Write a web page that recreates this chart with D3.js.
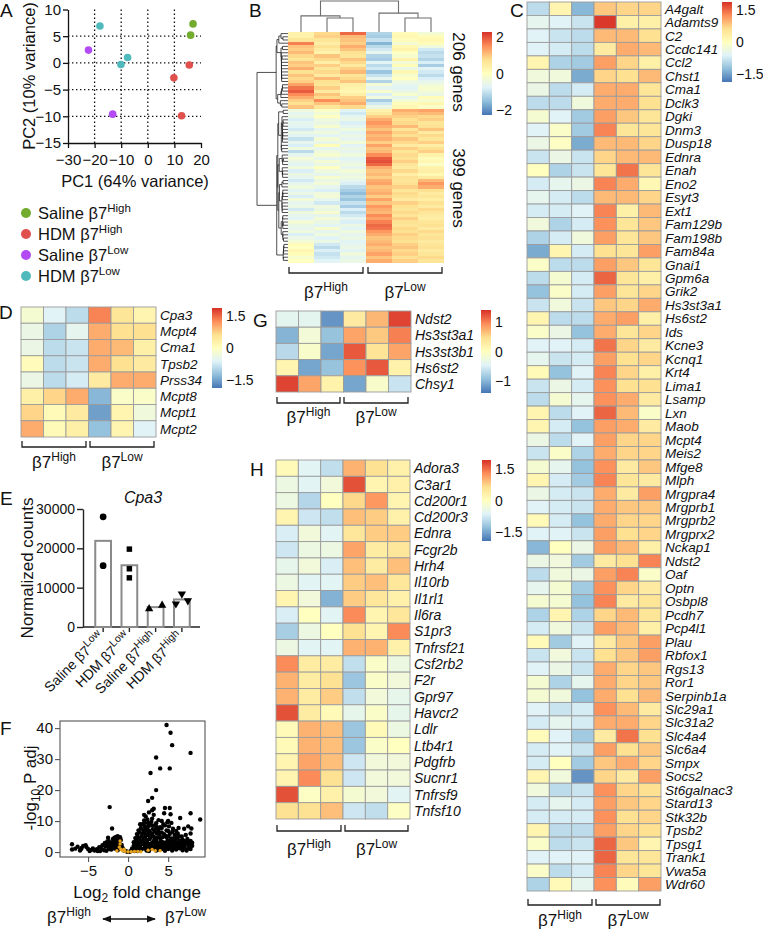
<!DOCTYPE html>
<html><head><meta charset="utf-8">
<script src="https://cdn.jsdelivr.net/npm/d3@7"></script>
<style>
body{margin:0;background:#fff}
svg{display:block}
text{font-family:"Liberation Sans",Arial,Helvetica,sans-serif;fill:#111}
</style>
</head><body>
<svg id="c" width="763" height="929"></svg>
<script>
// ---------------- DATA ----------------
// Panel A: PCA
const pcaGroupBase = ["Saline β7", "HDM β7", "Saline β7", "HDM β7"];
const pcaGroupSup = ["High", "High", "Low", "Low"];
const pcaColors = ["#72ab2d", "#e0504d", "#b24bf3", "#50b9bb"];
const pcaPC1 = [17.0, 16.1, 15.6, 9.8, 12.7, -22.3, -13.2, -18.0, -10.1, -7.6];
const pcaPC2 = [7.3, 5.2, -0.4, -2.8, -9.9, 2.4, -9.6, 6.9, -0.3, 1.0];
const pcaGroup = [0, 0, 1, 1, 1, 2, 2, 3, 3, 3];
const pcaXTicks = [-30, -20, -10, 0, 10, 20];
const pcaYTicks = [-15, -10, -5, 0, 5, 10];

// Panel B: 605 DE genes, summarised in row bands (6 samples)
const bTopRows = [
 [0.3,0.8,1.8,-1.2,0.1,-0.3],[0.3,0.9,1.1,-1.3,0.2,0.1],[0.6,0.6,1.0,-1.0,0.1,0.2],[1.6,0.4,0.9,-1.6,-0.3,0.1],
 [1.0,0.7,1.2,-1.1,0.2,-0.4],[0.9,0.5,1.0,-0.9,0.3,-0.9],[1.1,0.3,0.7,-0.6,0.0,-1.1],[0.8,1.0,0.6,-1.2,-0.2,-1.0],
 [0.6,0.8,1.0,-1.3,0.3,-1.2],[1.0,0.4,0.8,-0.7,-0.3,-0.8],[0.9,0.9,0.5,-1.1,0.1,-1.3],[1.2,0.6,0.9,-0.9,-0.5,-0.7],
 [0.7,0.8,1.1,-1.4,0.2,-0.9],[1.0,0.5,0.6,-1.0,-0.2,-1.1],[0.8,1.1,0.8,-0.6,0.0,-0.8],[0.9,0.7,1.0,-1.2,-0.4,-0.6],
 [1.3,0.6,0.4,-0.3,-0.6,-0.4],[1.7,0.9,0.3,-0.6,-0.7,-0.2],[1.9,0.5,0.2,-0.2,-0.5,-0.3],[1.5,1.0,0.4,-0.8,-0.2,-0.5],
 [1.2,0.8,0.9,-0.4,-0.6,0.1],[0.9,1.5,1.0,-1.3,-0.3,-0.2],[0.7,1.0,1.2,-0.9,0.1,0.2],[1.0,0.6,0.8,-0.5,0.2,-0.1]
];
const bBottomRows = [
 [-0.4,-0.1,-0.7,0.3,1.2,1.3],[-0.6,-0.3,-0.9,0.5,1.0,1.1],[-0.5,0.0,-0.6,0.9,0.9,0.8],[-0.8,-0.4,-0.5,1.2,0.7,0.9],
 [-0.6,-0.5,-0.8,1.4,0.8,0.6],[-0.7,-0.2,-0.6,1.2,1.1,0.7],[-0.9,-0.6,-0.4,1.0,0.6,1.0],[-0.5,-0.4,-0.7,1.3,0.9,0.5],
 [-0.7,-0.7,-0.5,1.1,0.7,0.8],[-1.0,-0.3,-0.6,1.2,1.0,0.6],[-0.6,-0.5,-0.3,0.9,0.8,0.9],[-0.8,0.1,-0.7,1.3,0.5,0.4],
 [-0.4,-0.6,-0.5,1.0,0.9,0.7],[-1.1,-0.4,-0.6,1.1,0.6,0.9],[-0.6,-0.2,-0.4,1.5,0.8,0.3],[-0.3,-0.6,-0.7,1.9,0.7,0.1],
 [-0.5,-0.3,-0.6,2.0,0.9,0.2],[-0.7,-0.5,-0.4,1.8,0.6,-0.1],[-0.4,0.0,-0.6,1.2,0.5,0.3],[-0.8,-0.4,-0.3,1.0,0.8,0.4],
 [-0.5,-0.6,-0.5,1.1,0.4,0.2],[-0.6,-0.2,-0.4,0.9,0.7,0.5],[-0.9,-0.5,-0.6,1.2,0.6,1.1],[-0.6,-0.3,-0.8,1.3,0.7,1.4],
 [-0.4,-0.6,-1.1,1.0,0.9,1.2],[-0.7,-0.8,-1.3,1.1,0.6,0.7],[-0.5,-0.4,-1.5,1.2,0.8,0.5],[-0.8,-0.3,-1.2,0.9,0.7,0.6],
 [-0.3,-0.6,-1.4,1.3,0.5,0.4],[-0.6,-0.9,-1.0,1.0,0.9,0.7],[-0.5,-0.4,-1.3,1.4,0.7,0.5],[-0.9,-0.5,-0.8,1.2,0.6,0.8],
 [-0.4,-0.2,-1.1,1.1,0.8,0.6],[-0.6,-0.6,-0.9,1.5,0.6,0.5],[-0.7,-0.3,-0.6,1.3,0.9,0.4],[-0.3,-0.5,-0.8,1.6,0.7,0.6],
 [-0.5,-0.7,-0.5,1.8,0.6,0.7],[-0.6,-0.2,-0.7,1.7,0.8,0.5],[-0.4,-0.6,-0.4,1.4,0.7,0.8],[-0.8,-0.4,-0.6,1.2,0.9,0.6],
 [-0.5,-0.7,-0.5,1.0,0.8,0.7],[-0.3,-0.5,-0.7,1.1,0.7,0.5],[0.1,-0.9,-0.6,1.2,0.9,0.6],[0.0,-1.1,-0.5,1.0,1.0,0.7],
 [0.2,-0.8,-0.7,1.1,0.8,0.5],[0.1,-1.0,-0.4,1.3,0.9,0.6],[-0.2,-0.9,-0.6,1.0,0.7,0.8],[0.0,-0.7,-0.5,1.2,0.9,0.6]
];
const bGeneCounts = ["206 genes", "399 genes"];
const bColumnTree = {h:1.0, children:[
  {h:0.52, children:[{leaf:0},{h:0.45, children:[{leaf:1},{leaf:2}]}]},
  {h:0.61, children:[{leaf:3},{h:0.45, children:[{leaf:4},{leaf:5}]}]}]};
const bLegendTicks = [-2, 0, 2];

// Panel C
const cGenes = ["A4galt","Adamts9","C2","Ccdc141","Ccl2","Chst1","Cma1","Dclk3","Dgki","Dnm3","Dusp18","Ednra","Enah","Eno2","Esyt3","Ext1","Fam129b","Fam198b","Fam84a","Gnai1","Gpm6a","Grik2","Hs3st3a1","Hs6st2","Ids","Kcne3","Kcnq1","Krt4","Lima1","Lsamp","Lxn","Maob","Mcpt4","Meis2","Mfge8","Mlph","Mrgpra4","Mrgprb1","Mrgprb2","Mrgprx2","Nckap1","Ndst2","Oaf","Optn","Osbpl8","Pcdh7","Pcp4l1","Plau","Rbfox1","Rgs13","Ror1","Serpinb1a","Slc29a1","Slc31a2","Slc4a4","Slc6a4","Smpx","Socs2","St6galnac3","Stard13","Stk32b","Tpsb2","Tpsg1","Trank1","Vwa5a","Wdr60"];
const cValues = [
 [-0.9,0.2,-1.3,0.8,0.7,0.7],[-0.5,-0.6,-0.8,1.8,0.3,0.3],[-0.6,-0.8,-0.9,0.9,0.9,0.6],[-0.6,-0.7,-0.9,0.4,1.0,0.9],
 [0.2,-1.0,-1.1,1.1,0.7,0.3],[-0.3,-0.3,-1.4,0.7,0.6,0.9],[-0.4,-0.9,-0.7,1.0,1.0,0.5],[-0.9,-0.9,-0.3,1.0,1.0,0.6],
 [-0.2,-0.6,-1.1,1.1,0.8,0.5],[-0.6,-0.1,-1.1,1.3,0.5,0.5],[-0.4,-0.05,-1.4,0.9,0.9,0.7],[-0.8,-0.4,-0.8,0.7,0.9,0.9],
 [0.0,-1.0,-0.8,0.5,1.4,0.5],[-0.7,-0.5,-0.4,1.3,1.0,0.15],[-0.5,-0.7,-0.9,0.9,0.9,0.7],[-0.7,-0.7,-0.6,1.3,0.3,0.9],
 [-0.3,-1.0,-0.7,1.2,0.5,0.8],[-1.0,-0.7,-0.3,1.1,0.5,0.8],[-1.4,0.2,-0.7,0.6,0.5,1.1],[-0.1,-0.9,-0.9,1.1,0.8,0.5],
 [-0.9,-0.2,-0.7,1.5,0.5,0.3],[-1.2,-0.1,-0.7,1.1,0.5,0.7],[-0.8,-0.3,-0.8,0.8,0.7,1.0],[0.2,-0.9,-0.9,1.0,1.1,0.3],
 [-0.1,-0.4,-1.2,1.0,0.5,0.7],[-0.6,-0.6,-0.7,1.4,0.7,0.4],[-0.5,-0.8,-0.7,1.1,0.6,0.7],[0.1,-1.2,-0.6,1.3,0.7,0.3],
 [-0.8,-0.4,-0.7,1.2,0.6,0.6],[-0.9,-0.2,-0.5,1.2,1.0,0.4],[0.2,-0.9,-0.6,1.5,0.9,-0.1],[0.2,-0.7,-1.2,1.1,1.0,0.4],
 [-0.4,-0.9,-0.6,1.1,0.7,0.7],[-0.8,-0.1,-1.0,1.0,0.7,0.7],[-0.2,-0.5,-1.2,1.2,0.4,0.8],[0.2,-0.7,-1.1,1.3,0.5,0.4],
 [-0.4,-0.7,-0.8,1.0,0.4,1.1],[-0.6,-0.7,-0.8,1.0,0.8,0.8],[0.1,-0.7,-1.2,1.0,0.7,0.7],[-0.6,-0.6,-0.8,1.1,0.6,0.7],
 [-1.3,0.0,-0.4,1.1,0.9,0.3],[-0.4,-0.3,-1.1,0.4,0.6,1.3],[-0.9,-0.3,-0.4,1.1,1.3,-0.1],[-0.5,-0.2,-1.1,1.2,0.7,0.4],
 [-0.2,-0.2,-1.2,1.3,0.4,0.5],[-1.0,0.2,-1.0,0.7,0.9,0.5],[-0.7,-0.3,-0.8,1.1,0.9,0.3],[0.1,-1.1,-0.6,0.4,0.8,1.1],
 [-0.8,-0.3,-0.8,0.6,0.8,1.1],[-0.6,-0.4,-0.8,1.0,0.7,0.8],[-0.2,-1.0,-0.5,1.0,0.7,0.8],[-0.2,-0.3,-1.2,1.0,0.6,0.9],
 [-0.6,-0.8,-0.7,1.2,0.9,0.4],[-0.7,-0.5,-0.7,1.0,1.0,0.7],[0.05,-0.6,-1.1,0.4,1.4,0.6],[-0.7,-0.6,-0.8,1.1,0.6,0.8],
 [-0.7,0.0,-1.1,0.8,1.0,0.7],[0.2,-0.3,-1.6,0.7,0.4,1.1],[-0.3,-0.9,-0.8,1.2,0.7,0.6],[-0.7,-0.5,-0.7,1.1,0.8,0.7],
 [-0.7,-0.7,-0.7,1.2,0.6,0.7],[0.2,-0.9,-0.9,1.1,0.7,0.6],[-0.1,-0.9,-0.8,1.5,0.8,0.2],[-0.6,-0.6,-0.6,1.5,0.5,0.5],
 [-0.1,-0.9,-0.7,1.3,0.7,0.5],[-1.0,0.1,-0.5,1.2,0.05,1.1]
];
const cLegendTicks = [-1.5, 0, 1.5];

// Panel D
const dGenes = ["Cpa3","Mcpt4","Cma1","Tpsb2","Prss34","Mcpt8","Mcpt1","Mcpt2"];
const dValues = [
 [-0.2,-0.6,-0.9,1.3,0.5,0.2],[-0.4,-1.0,-0.5,1.0,0.6,0.6],[-0.4,-0.9,-0.8,1.0,0.9,0.3],[0.05,-0.9,-0.8,1.0,0.6,0.4],
 [-0.4,-0.9,-0.7,0.4,1.0,1.0],[0.3,0.7,1.0,-1.3,-0.1,-0.1],[0.7,0.1,0.4,-1.5,0.2,-0.3],[1.0,0.1,0.3,-1.2,0.2,-0.6]
];
const dLegendTicks = [-1.5, 0, 1.5];

// Panel E: Cpa3 normalized counts
const eGroupBase = ["Saline β7", "HDM β7", "Saline β7", "HDM β7"];
const eGroupSup = ["Low", "Low", "High", "High"];
const eMeans = [21900, 15700, 5050, 7000];
const eReplicates = [[28000, 15600], [19800, 14800, 12500], [4600, 5500], [8400, 5900, 6700]];
const eSymbols = ["circle", "square", "triangle", "triangleDown"];
const eYTicks = [0, 10000, 20000, 30000];

// Panel F: volcano (log2 fold change, -log10 P adj)
const volcanoPoints = [
 [-7.0,2.5],[-7.0,0.8],[-6.3,1.7],[-5.8,1.3],[-5.3,2.2],[-5.2,1.6],[-5.0,1.0],[-4.6,0.7],[-4.2,0.5],[-3.9,0.9],
 [-3.6,1.6],[-3.3,1.1],[-3.0,0.6],[-2.8,1.8],[-2.6,2.6],[-2.5,4.6],[-2.4,3.5],[-2.3,14.5],[-2.2,2.2],[-2.0,7.6],
 [-2.0,3.0],[-1.9,4.2],[-1.8,1.2],[-1.7,4.6],[-1.6,2.4],[-1.5,4.9],[-1.4,3.6],[-1.3,5.1],[-1.2,4.4],[-1.1,2.9],
 [-1.0,4.8],[-0.9,3.9],[-0.8,2.3],[-0.7,1.4],[-0.6,0.9],[-0.5,0.5],[-0.3,0.3],[-0.1,0.1],[-2.7,0.4],[-3.5,0.3],
 [-2.1,0.8],[-1.3,0.6],[-4.8,0.3],[-6.0,0.5],[-5.6,2.0],[-2.9,2.9],[-1.9,1.6],[-1.5,1.0],[-1.0,1.9],[-2.4,1.4],
 [0.2,0.1],[0.4,0.4],[0.5,1.2],[0.6,0.6],[0.7,2.0],[0.8,1.1],[0.9,3.0],[1.0,0.5],[1.0,4.0],[1.1,2.2],
 [1.2,5.0],[1.3,1.5],[1.4,6.3],[1.5,3.4],[1.6,7.8],[1.6,0.8],[1.7,5.1],[1.8,9.0],[1.8,2.6],[1.9,4.0],
 [2.0,10.2],[2.0,6.5],[2.0,1.2],[2.1,8.2],[2.2,3.3],[2.3,7.0],[2.3,0.5],[2.4,5.4],[2.5,9.4],[2.5,2.0],
 [2.6,8.5],[2.7,4.2],[2.8,6.2],[2.8,1.0],[2.9,9.8],[3.0,3.0],[3.1,7.4],[3.2,12.0],[3.2,5.0],[3.3,1.7],
 [3.4,8.7],[3.5,9.3],[3.5,3.8],[3.6,6.0],[3.7,0.7],[3.8,7.5],[3.9,2.5],[4.0,8.0],[4.0,4.5],[4.1,1.3],
 [4.2,6.3],[4.3,3.2],[4.4,9.0],[4.5,12.5],[4.5,5.8],[4.6,14.2],[4.7,2.1],[4.8,7.0],[4.9,3.6],[5.0,5.0],
 [5.0,1.0],[5.1,8.3],[5.2,14.2],[5.3,12.2],[5.3,2.8],[5.4,4.4],[5.5,6.5],[5.6,1.8],[5.7,3.3],[5.8,5.5],
 [5.9,2.3],[6.0,5.0],[6.0,0.8],[6.2,6.0],[6.2,2.9],[6.4,3.6],[6.5,11.0],[6.5,1.5],[6.6,2.6],[6.8,4.0],
 [7.0,7.5],[7.0,2.0],[7.2,3.1],[7.3,0.5],[7.5,8.3],[7.6,2.5],[7.8,6.0],[7.8,12.5],[7.8,32.0],[7.9,7.6],
 [7.7,2.0],[8.0,3.0],[9.0,10.5],[4.8,41.0],[5.3,38.5],[5.5,34.5],[3.5,30.5],[4.0,27.0],[5.2,27.0],[2.8,25.5],
 [3.5,20.0],[3.0,17.5],[2.5,16.5],[3.2,14.0],[2.6,12.8],[2.2,11.5],[3.0,10.8],[2.4,10.5],[3.8,10.3],[1.5,9.0],
 [1.3,7.0],[1.1,5.8],[0.9,4.5],[0.7,3.2],[6.0,6.8],[6.7,5.0],[7.2,5.5],[5.6,7.5],[4.2,10.0],[3.0,13.5],
 [2.0,12.0],[5.0,10.0],[6.3,7.8],[7.4,4.2],[5.5,0.5],[4.6,0.4],[3.5,0.5],[2.6,0.3],[6.8,0.6],[1.2,0.3],[7.8,1.0],
 [1.4,2.6],[1.7,3.6],[2.1,4.6],[2.4,2.8],[2.9,5.2],[3.3,4.1],[3.6,2.2],[4.4,2.6],[4.8,4.8],[5.2,3.7],[5.9,4.0],[6.4,1.2],
 [0.8,0.3],[1.1,1.0],[1.3,3.0],[1.5,2.0],[1.7,1.0],[1.9,3.0],[2.0,4.0],[2.1,2.0],[2.2,5.5],[2.3,1.6],
 [2.4,3.8],[2.5,6.0],[2.6,2.6],[2.7,1.4],[2.8,4.8],[2.9,2.0],[3.0,5.8],[3.1,1.2],[3.2,3.4],[3.3,6.6],
 [3.4,2.6],[3.5,1.2],[3.6,4.6],[3.7,3.0],[3.8,1.8],[3.9,5.6],[4.0,2.2],[4.1,3.6],[4.2,1.0],[4.3,4.8],
 [4.4,2.0],[4.5,3.0],[4.6,1.5],[4.7,5.2],[4.8,2.6],[4.9,1.6],[5.0,3.4],[5.1,2.0],[5.2,5.8],[5.3,1.4],
 [5.4,3.0],[5.5,2.2],[5.6,4.2],[5.7,1.2],[5.8,2.8],[5.9,3.4],[6.0,2.0],[6.1,4.4],[6.2,1.6],[6.3,2.6],
 [6.4,5.0],[6.5,2.2],[6.6,3.6],[6.7,1.6],[6.9,2.6],[7.0,3.6],[7.1,1.2],[7.3,2.4],[7.5,3.0],[7.6,1.4],
 [7.8,3.6],[8.0,2.0],[1.0,2.6],[1.4,4.2],[1.8,6.0],[2.2,7.6],[2.6,7.0],[3.0,8.6],[3.4,7.4],[3.8,6.6],
 [4.2,7.8],[4.6,8.6],[5.0,6.8],[5.4,9.4],[2.7,9.0],[2.4,8.0],[3.6,8.0],[4.9,9.6],[1.9,7.0],[2.1,9.4],
 [-1.6,3.4],[-1.8,3.8],[-2.1,2.6],[-1.2,3.2],[-1.4,2.0],[-1.7,1.8],[-2.3,1.0],[-0.9,1.2],[-1.1,4.0],[-2.6,3.4],
 [-3.2,2.2],[-3.8,0.3],[-4.4,1.2],[-5.9,0.9],[-6.6,1.1]
];
const volcanoHighlight = [
 [-1.0,3.6],[-1.0,2.6],[-1.1,1.6],[-0.9,0.9],[-0.7,0.4],[-0.4,0.2],[0.0,0.1],[0.4,0.1],[0.8,0.2],[1.2,0.2],
 [2.5,0.6],[3.0,0.8],[3.4,0.4],[4.0,0.4],[-1.4,0.4],[-0.5,0.9],[1.6,0.1]
];
const fXTicks = [-5, 0, 5];
const fYTicks = [0, 10, 20, 30, 40];

// Panel G
const gGenes = ["Ndst2","Hs3st3a1","Hs3st3b1","Hs6st2","Chsy1"];
const gValues = [
 [-0.4,-0.4,-1.2,0.3,0.7,1.3],[-1.0,-0.2,-0.9,0.8,0.6,1.0],[-0.7,-0.1,-1.1,1.2,0.4,0.8],
 [0.15,-1.1,-0.9,0.9,1.2,0.2],[1.3,0.8,0.2,-1.1,-0.1,-0.6]
];
const gLegendTicks = [-1, 0, 1];

// Panel H
const hGenes = ["Adora3","C3ar1","Cd200r1","Cd200r3","Ednra","Fcgr2b","Hrh4","Il10rb","Il1rl1","Il6ra","S1pr3","Tnfrsf21","Csf2rb2","F2r","Gpr97","Havcr2","Ldlr","Ltb4r1","Pdgfrb","Sucnr1","Tnfrsf9","Tnfsf10"];
const hValues = [
 [0.1,-0.6,-0.9,1.0,0.6,0.3],[-0.4,-0.6,-0.3,1.7,0.2,0.3],[-0.4,-1.0,0.0,0.7,1.2,0.2],[0.2,-0.8,-0.9,0.9,0.8,0.3],
 [-0.7,-0.3,-0.6,0.5,0.8,0.8],[-0.8,-0.4,-0.4,1.1,0.4,0.5],[-0.5,-0.3,-0.7,0.9,0.4,0.9],[-0.4,-0.6,-0.6,0.8,0.9,0.5],
 [0.2,-0.3,-1.4,0.8,0.5,0.3],[-0.7,0.0,-0.6,1.3,0.2,0.5],[-1.1,-0.4,0.0,0.6,0.2,1.3],[-0.4,-0.6,-0.6,1.0,1.0,0.3],
 [1.3,0.4,0.4,-0.9,-0.1,-0.4],[1.0,0.4,0.6,-1.2,-0.1,-0.3],[1.0,0.4,0.8,-0.9,-0.3,-0.5],[1.7,0.4,0.1,-0.5,-0.1,-0.5],
 [0.1,1.0,0.9,-1.2,0.1,-0.4],[0.1,1.0,0.9,-1.2,-0.1,0.0],[0.2,1.1,0.9,-0.8,-0.3,-0.3],[0.2,1.3,0.6,-0.8,-0.3,-0.3],
 [1.7,-0.05,0.3,-0.2,-0.3,-0.6],[0.6,0.6,0.9,-0.8,-0.9,-0.05]
];
const hLegendTicks = [-1.5, 0, 1.5];

// ---------------- DRAWING ----------------
const svg = d3.select("#c");
const defs = svg.append("defs");
const INK = "#111";
const palette = ["#4575B4","#91BFDB","#E0F3F8","#FFFFBF","#FEE090","#FC8D59","#D73027"];
function colorScale(m){
  return d3.scaleLinear().domain(d3.range(7).map(i => -m + 2*m*i/6)).range(palette).clamp(true);
}
function panelLabel(t, x, y){
  svg.append("text").attr("x", x).attr("y", y).attr("font-size", 19).text(t);
}
function supLabel(sel, base, sup, size, supSize, raise){
  sel.attr("font-size", size);
  sel.append("tspan").text(base);
  sel.append("tspan").attr("font-size", supSize).attr("dy", -raise).text(sup);
  return sel;
}
function bracket(x1, x2, y){
  svg.append("path").attr("d", `M${x1},${y-6}V${y}H${x2}V${y-6}`)
    .attr("fill", "none").attr("stroke", "#222").attr("stroke-width", 1.3);
}
function groupBrackets(l, r, y, ly){
  bracket(l[0], l[1], y); bracket(r[0], r[1], y);
  supLabel(svg.append("text").attr("x", (l[0]+l[1])/2).attr("y", ly).attr("text-anchor","middle"), "β7", "High", 17, 12, 7);
  supLabel(svg.append("text").attr("x", (r[0]+r[1])/2).attr("y", ly).attr("text-anchor","middle"), "β7", "Low", 17, 12, 7);
}
function heatmap(values, labels, box, m, border, labelSize){
  const g = svg.append("g");
  const x = d3.scaleBand().domain(d3.range(6)).range([box.x0, box.x1]);
  const y = d3.scaleBand().domain(d3.range(values.length)).range([box.y0, box.y1]);
  const col = colorScale(m);
  g.selectAll("g.r").data(values).join("g").attr("class","r").each(function(row, i){
    d3.select(this).selectAll("rect").data(row).join("rect")
      .attr("x", (d, j) => x(j)).attr("y", y(i))
      .attr("width", x.bandwidth()).attr("height", border ? y.bandwidth() : y.bandwidth() + 0.6)
      .attr("fill", d => col(d))
      .attr("stroke", border ? "#9c9c9c" : "none").attr("stroke-width", 0.9)
      .attr("shape-rendering", border ? null : "crispEdges");
  });
  if (labels) {
    g.selectAll("text").data(labels).join("text")
      .attr("x", box.x1 + 4).attr("y", (d, i) => y(i) + y.bandwidth()/2)
      .attr("dy", "0.36em").attr("font-size", labelSize || 13).attr("font-style", "italic")
      .text(d => d);
  }
  return {x, y};
}
let gradId = 0;
function legend(x, y0, y1, w, m, ticks){
  const id = "lg" + (gradId++);
  const lg = defs.append("linearGradient").attr("id", id).attr("x1",0).attr("y1",1).attr("x2",0).attr("y2",0);
  palette.forEach((c, i) => lg.append("stop").attr("offset", i/6).attr("stop-color", c));
  svg.append("rect").attr("x", x).attr("y", y0).attr("width", w).attr("height", y1 - y0).attr("fill", `url(#${id})`);
  const s = d3.scaleLinear().domain([-m, m]).range([y1, y0]);
  svg.append("g").selectAll("text").data(ticks).join("text")
    .attr("x", x + w + 4).attr("y", d => s(d)).attr("dy", "0.36em").attr("font-size", 14)
    .text(d => d3.format("")(d));
}

// ===== Panel A =====
panelLabel("A", 0, 17);
{
  const x = d3.scaleLinear().domain([-30, 20]).range([68, 201]);
  const y = d3.scaleLinear().domain([-15, 10]).range([143, 9.5]);
  const g = svg.append("g");
  g.selectAll("line.vg").data([-20, -10, 0, 10]).join("line")
    .attr("x1", d => x(d)).attr("x2", d => x(d)).attr("y1", y(10)).attr("y2", y(-15))
    .attr("stroke", "#111").attr("stroke-width", 1.3).attr("stroke-dasharray", "1.4,2.6");
  g.selectAll("line.hg").data([5, 0, -5, -10]).join("line")
    .attr("y1", d => y(d)).attr("y2", d => y(d)).attr("x1", x(-30)).attr("x2", x(20))
    .attr("stroke", "#111").attr("stroke-width", 1.3).attr("stroke-dasharray", "1.4,2.6");
  const ax = g.append("g").attr("transform", `translate(0,${y(-15)})`)
    .call(d3.axisBottom(x).tickValues(pcaXTicks).tickSize(5).tickSizeOuter(0));
  const ay = g.append("g").attr("transform", `translate(${x(-30)},0)`)
    .call(d3.axisLeft(y).tickValues(pcaYTicks).tickSize(5).tickSizeOuter(0));
  [ax, ay].forEach(a => {
    a.selectAll("path,line").attr("stroke", INK).attr("stroke-width", 1.3);
    a.selectAll("text").attr("font-size", 15).attr("fill", INK).style("font-family", null);
  });
  ax.selectAll("text").attr("dy", "0.9em");
  ay.selectAll("text").attr("x", -7);
  g.selectAll("circle").data(pcaPC1).join("circle")
    .attr("cx", d => x(d)).attr("cy", (d, i) => y(pcaPC2[i])).attr("r", 3.8)
    .attr("fill", (d, i) => pcaColors[pcaGroup[i]]);
  svg.append("text").attr("x", 135).attr("y", 187).attr("text-anchor", "middle").attr("font-size", 16.5).text("PC1 (64% variance)");
  svg.append("text").attr("transform", "translate(35,76) rotate(-90)").attr("text-anchor", "middle").attr("font-size", 16.5).text("PC2 (10% variance)");
  const ly = [213, 234, 255, 276];
  pcaGroupBase.forEach((b, i) => {
    svg.append("circle").attr("cx", 26).attr("cy", ly[i]).attr("r", 5).attr("fill", pcaColors[i]);
    supLabel(svg.append("text").attr("x", 38).attr("y", ly[i] + 6), b, pcaGroupSup[i], 16.5, 11.5, 7);
  });
}

// ===== Panel B =====
panelLabel("B", 249, 17);
{
  const rows = bTopRows.concat(bBottomRows);
  const box = {x0: 288, x1: 444, y0: 32, y1: 262};
  const hm = heatmap(rows, null, box, 2.25, false);
  // column dendrogram
  const cy = d3.scaleLinear().domain([0, 1]).range([32, 1]);
  const colRoot = d3.hierarchy(bColumnTree);
  colRoot.eachAfter(n => {
    if (n.data.leaf !== undefined) { n.px = hm.x(n.data.leaf) + hm.x.bandwidth()/2; n.ph = 0; }
    else { n.px = d3.mean(n.children, c => c.px); n.ph = n.data.h; }
  });
  const cg = svg.append("g").attr("fill", "none").attr("stroke", "#6d6d6d").attr("stroke-width", 1.1);
  colRoot.each(n => {
    if (!n.children) return;
    const [a, b] = n.children;
    cg.append("path").attr("d", `M${a.px},${cy(a.ph)}V${cy(n.ph)}H${b.px}V${cy(b.ph)}`);
  });
  // row dendrogram: order-preserving Ward clustering of the row bands
  let clusters = rows.map((r, i) => ({n: 1, c: r.slice(), h: 0, py: hm.y(i) + hm.y.bandwidth()/2}));
  while (clusters.length > 1) {
    let best = 0, bd = Infinity;
    for (let i = 0; i < clusters.length - 1; i++) {
      const a = clusters[i], b = clusters[i+1];
      const d = Math.sqrt(2*a.n*b.n/(a.n+b.n)) * Math.hypot(...a.c.map((v, k) => v - b.c[k]));
      if (d < bd) { bd = d; best = i; }
    }
    const a = clusters[best], b = clusters[best+1], n = a.n + b.n;
    clusters.splice(best, 2, {n, c: a.c.map((v, k) => (v*a.n + b.c[k]*b.n)/n),
      h: Math.max(bd, a.h, b.h), py: (a.py + b.py)/2, kids: [a, b]});
  }
  const root = d3.hierarchy(clusters[0], d => d.kids);
  const rx = d3.scaleSqrt().domain([0, root.data.h]).range([288, 257]);
  const rg = svg.append("g").attr("fill", "none").attr("stroke", "#222").attr("stroke-width", 0.8);
  root.each(nd => {
    if (!nd.children) return;
    const [a, b] = nd.children;
    rg.append("path").attr("d", `M${rx(a.data.h)},${a.data.py}H${rx(nd.data.h)}V${b.data.py}H${rx(b.data.h)}`);
  });
  svg.append("text").attr("transform", "translate(453,72) rotate(90)").attr("text-anchor", "middle").attr("font-size", 17).text(bGeneCounts[0]);
  svg.append("text").attr("transform", "translate(453,188) rotate(90)").attr("text-anchor", "middle").attr("font-size", 17).text(bGeneCounts[1]);
  legend(482, 32, 115, 10, 2.25, bLegendTicks);
  groupBrackets([289, 363], [368, 442], 273, 298);
}

// ===== Panel C =====
panelLabel("C", 510, 17);
heatmap(cValues, cGenes, {x0: 527, x1: 661, y0: 2, y1: 891}, 1.85, true, 13.5);
legend(722, 2, 82, 10, 1.85, cLegendTicks);
groupBrackets([528, 592], [596, 660], 905, 926);

// ===== Panel D =====
panelLabel("D", -1, 319);
heatmap(dValues, dGenes, {x0: 21, x1: 156, y0: 307, y1: 437}, 1.85, true, 13.5);
legend(212, 308, 388, 10, 1.85, dLegendTicks);
groupBrackets([22, 86], [90, 154], 447, 468);

// ===== Panel G =====
panelLabel("G", 253, 327);
heatmap(gValues, gGenes, {x0: 276, x1: 411, y0: 311, y1: 392}, 1.4, true, 14);
legend(481, 310, 393, 10, 1.4, gLegendTicks);
groupBrackets([277, 340], [344, 408], 403, 423);

// ===== Panel H =====
panelLabel("H", 250, 476);
heatmap(hValues, hGenes, {x0: 276, x1: 410, y0: 460, y1: 819}, 1.93, true, 14);
legend(482, 460, 541, 9, 1.93, hLegendTicks);
groupBrackets([277, 341], [345, 408], 831, 855);

// ===== Panel E =====
panelLabel("E", 0, 505);
{
  const x = d3.scaleBand().domain(d3.range(4)).range([90, 195]).paddingInner(0.4).paddingOuter(0.2);
  const y = d3.scaleLinear().domain([0, 30000]).range([627, 509]);
  const g = svg.append("g");
  const ay = g.append("g").attr("transform", "translate(83,0)")
    .call(d3.axisLeft(y).tickValues(eYTicks).tickSize(6).tickSizeOuter(0).tickFormat(d3.format("d")));
  ay.selectAll("path,line").attr("stroke", "#222").attr("stroke-width", 1.4);
  ay.selectAll("text").attr("font-size", 14).attr("fill", INK).style("font-family", null).attr("x", -8);
  g.append("line").attr("x1", 83).attr("x2", 200).attr("y1", 627).attr("y2", 627).attr("stroke", "#222").attr("stroke-width", 1.4);
  const cx = i => x(i) + x.bandwidth()/2;
  g.selectAll("line.xt").data(d3.range(4)).join("line")
    .attr("x1", cx).attr("x2", cx).attr("y1", 627).attr("y2", 632).attr("stroke", "#222").attr("stroke-width", 1.4);
  g.selectAll("rect").data(eMeans).join("rect")
    .attr("x", (d, i) => x(i)).attr("width", x.bandwidth())
    .attr("y", d => y(d)).attr("height", d => 627 - y(d))
    .attr("fill", "#fff").attr("stroke", "#8a8a8a").attr("stroke-width", 2);
  const jitter = [[0, 0], [0, 0, 0], [-6.5, 6.5], [0, -6, 6]];
  const sym = {circle: d3.symbolCircle, square: d3.symbolSquare, triangle: d3.symbolTriangle, triangleDown: d3.symbolTriangle};
  eReplicates.forEach((reps, i) => {
    reps.forEach((v, k) => {
      const s = eSymbols[i];
      g.append("path").attr("d", d3.symbol(sym[s], s === "circle" ? 36 : 30)())
        .attr("transform", `translate(${cx(i) + jitter[i][k]},${y(v)})${s === "triangleDown" ? " rotate(180)" : ""}`)
        .attr("fill", "#000");
    });
  });
  eGroupBase.forEach((b, i) => {
    supLabel(svg.append("text").attr("transform", `translate(${cx(i) + 2},${638}) rotate(-45)`).attr("text-anchor", "end"),
      b, eGroupSup[i], 14, 10.5, 6);
  });
  svg.append("text").attr("x", 143).attr("y", 503).attr("text-anchor", "middle").attr("font-size", 16).attr("font-style", "italic").text("Cpa3");
  svg.append("text").attr("transform", "translate(33,568) rotate(-90)").attr("text-anchor", "middle").attr("font-size", 17).text("Normalized counts");
}

// ===== Panel F =====
panelLabel("F", 0, 735);
{
  const x = d3.scaleLinear().domain([-8.5, 9.6]).range([60, 205]);
  const y = d3.scaleLinear().domain([-1.6, 42.3]).range([857, 721]);
  const g = svg.append("g");
  g.append("rect").attr("x", 60).attr("y", 721).attr("width", 145).attr("height", 136)
    .attr("fill", "none").attr("stroke", "#555").attr("stroke-width", 1.1);
  const ax = g.append("g").attr("transform", "translate(0,857)")
    .call(d3.axisBottom(x).tickValues(fXTicks).tickSize(5).tickSizeOuter(0));
  const ay = g.append("g").attr("transform", "translate(60,0)")
    .call(d3.axisLeft(y).tickValues(fYTicks).tickSize(5).tickSizeOuter(0));
  [ax, ay].forEach(a => {
    a.select("path").remove();
    a.selectAll("line").attr("stroke", "#555").attr("stroke-width", 1.1);
    a.selectAll("text").attr("font-size", 15).attr("fill", INK).style("font-family", null);
  });
  ax.selectAll("text").attr("dy", "0.75em");
  ay.selectAll("text").attr("x", -7);
  g.selectAll("circle.v").data(volcanoPoints).join("circle")
    .attr("cx", d => x(d[0])).attr("cy", d => y(d[1])).attr("r", 2.2).attr("fill", "#000");
  g.selectAll("circle.o").data(volcanoHighlight).join("circle")
    .attr("cx", d => x(d[0])).attr("cy", d => y(d[1])).attr("r", 1.7).attr("fill", "#e8a31f");
  const xt = svg.append("text").attr("x", 137).attr("y", 898).attr("text-anchor", "middle").attr("font-size", 17);
  xt.append("tspan").text("Log");
  xt.append("tspan").attr("font-size", 12).attr("dy", 4).text("2");
  xt.append("tspan").attr("dy", -4).text(" fold change");
  const yt = svg.append("text").attr("transform", "translate(36,788) rotate(-90)").attr("text-anchor", "middle").attr("font-size", 17);
  yt.append("tspan").text("-log");
  yt.append("tspan").attr("font-size", 12).attr("dy", 4).text("10");
  yt.append("tspan").attr("dy", -4).text(" P adj");
  supLabel(svg.append("text").attr("x", 47).attr("y", 923), "β7", "High", 17, 12, 7);
  supLabel(svg.append("text").attr("x", 165).attr("y", 923), "β7", "Low", 17, 12, 7);
  const mk = defs.append("marker").attr("id", "ah").attr("viewBox", "0 0 10 10").attr("refX", 9).attr("refY", 5)
    .attr("markerWidth", 7).attr("markerHeight", 7).attr("orient", "auto-start-reverse");
  mk.append("path").attr("d", "M0,1L10,5L0,9Z").attr("fill", "#111");
  svg.append("line").attr("x1", 103).attr("x2", 155).attr("y1", 919).attr("y2", 919)
    .attr("stroke", "#111").attr("stroke-width", 1.3)
    .attr("marker-start", "url(#ah)").attr("marker-end", "url(#ah)");
}
</script>
</body></html>
